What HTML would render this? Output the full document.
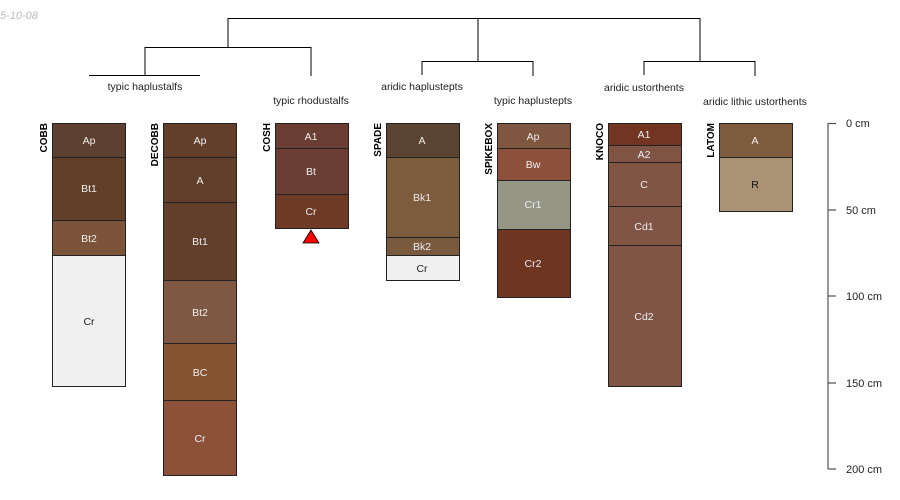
<!DOCTYPE html><html><head><style>body{margin:0;background:#fff}svg{display:block}text{font-family:"Liberation Sans",sans-serif}</style></head><body>
<svg width="900" height="500" xmlns="http://www.w3.org/2000/svg">
<text x="0" y="19" font-size="11" fill="#bbb" font-style="italic">5-10-08</text>
<g stroke="#000" stroke-width="1" fill="none">
<path d="M228,47V18.5H700V61M478,18.5V61M145,75V47.5H311V76M89,75.5H200M422,75V61.5H533V76M644,75V61.5H755V76"/>
</g>
<g font-size="10.5" fill="#222" text-anchor="middle">
<text x="145" y="90">typic haplustalfs</text>
<text x="311" y="104">typic rhodustalfs</text>
<text x="422" y="90">aridic haplustepts</text>
<text x="533" y="104">typic haplustepts</text>
<text x="644" y="91">aridic ustorthents</text>
<text x="755" y="105">aridic lithic ustorthents</text>
</g>
<g stroke="#222" stroke-width="1">
<rect x="52.5" y="123.5" width="73" height="34" fill="#5e4030"/>
<rect x="52.5" y="157.5" width="73" height="63" fill="#613f28"/>
<rect x="52.5" y="220.5" width="73" height="35" fill="#7b5439"/>
<rect x="52.5" y="255.5" width="73" height="131" fill="#f0f0f0"/>

<rect x="163.5" y="123.5" width="73" height="34" fill="#633f2b"/>
<rect x="163.5" y="157.5" width="73" height="45" fill="#613f2b"/>
<rect x="163.5" y="202.5" width="73" height="78" fill="#613f2b"/>
<rect x="163.5" y="280.5" width="73" height="63" fill="#7e5843"/>
<rect x="163.5" y="343.5" width="73" height="57" fill="#85532f"/>
<rect x="163.5" y="400.5" width="73" height="75" fill="#8c5138"/>

<rect x="275.5" y="123.5" width="73" height="25" fill="#6b3e34"/>
<rect x="275.5" y="148.5" width="73" height="46" fill="#6b3e35"/>
<rect x="275.5" y="194.5" width="73" height="34" fill="#6e3a25"/>

<rect x="386.5" y="123.5" width="73" height="34" fill="#5b4332"/>
<rect x="386.5" y="157.5" width="73" height="80" fill="#7d5b3d"/>
<rect x="386.5" y="237.5" width="73" height="18" fill="#7a5a3e"/>
<rect x="386.5" y="255.5" width="73" height="25" fill="#f0f0f0"/>

<rect x="497.5" y="123.5" width="73" height="25" fill="#7f5640"/>
<rect x="497.5" y="148.5" width="73" height="32" fill="#8d503a"/>
<rect x="497.5" y="180.5" width="73" height="49" fill="#969686"/>
<rect x="497.5" y="229.5" width="73" height="68" fill="#6e3521"/>

<rect x="608.5" y="123.5" width="73" height="22" fill="#713521"/>
<rect x="608.5" y="145.5" width="73" height="17" fill="#7f5444"/>
<rect x="608.5" y="162.5" width="73" height="44" fill="#805545"/>
<rect x="608.5" y="206.5" width="73" height="39" fill="#805545"/>
<rect x="608.5" y="245.5" width="73" height="141" fill="#805545"/>

<rect x="719.5" y="123.5" width="73" height="34" fill="#7f5b3d"/>
<rect x="719.5" y="157.5" width="73" height="54" fill="#a99374"/>
</g>
<g font-size="10.5" text-anchor="middle" fill="#eee">
<text x="89" y="144">Ap</text><text x="89" y="192">Bt1</text><text x="89" y="242">Bt2</text><text x="89" y="325" fill="#222">Cr</text>
<text x="200" y="144">Ap</text><text x="200" y="184">A</text><text x="200" y="245">Bt1</text><text x="200" y="316">Bt2</text><text x="200" y="376">BC</text><text x="200" y="442">Cr</text>
<text x="311" y="140">A1</text><text x="311" y="175">Bt</text><text x="311" y="215">Cr</text>
<text x="422" y="144">A</text><text x="422" y="201">Bk1</text><text x="422" y="250">Bk2</text><text x="422" y="272" fill="#222">Cr</text>
<text x="533" y="140">Ap</text><text x="533" y="168">Bw</text><text x="533" y="208">Cr1</text><text x="533" y="267">Cr2</text>
<text x="644" y="138">A1</text><text x="644" y="158">A2</text><text x="644" y="188">C</text><text x="644" y="230">Cd1</text><text x="644" y="320">Cd2</text>
<text x="755" y="144" >A</text><text x="755" y="188" fill="#111">R</text>
</g>
<g font-size="10" font-weight="bold" text-anchor="end" fill="#000">
<text transform="translate(47,123) rotate(-90)">COBB</text>
<text transform="translate(158,123) rotate(-90)">DECOBB</text>
<text transform="translate(270,123) rotate(-90)">COSH</text>
<text transform="translate(381,123) rotate(-90)">SPADE</text>
<text transform="translate(492,123) rotate(-90)">SPIKEBOX</text>
<text transform="translate(603,123) rotate(-90)">KNOCO</text>
<text transform="translate(714,123) rotate(-90)">LATOM</text>
</g>
<polygon points="311,230 303,243 319,243" fill="#f00" stroke="#000" stroke-width="0.8"/>
<g stroke="#555" stroke-width="1.2"><path d="M828,123V469M828,123.5H836M828,210H836M828,296H836M828,383H836M828,469H836"/></g>
<g font-size="11" fill="#222">
<text x="846" y="127">0 cm</text><text x="846" y="214">50 cm</text><text x="846" y="300">100 cm</text><text x="846" y="387">150 cm</text><text x="846" y="473">200 cm</text>
</g>
</svg></body></html>
